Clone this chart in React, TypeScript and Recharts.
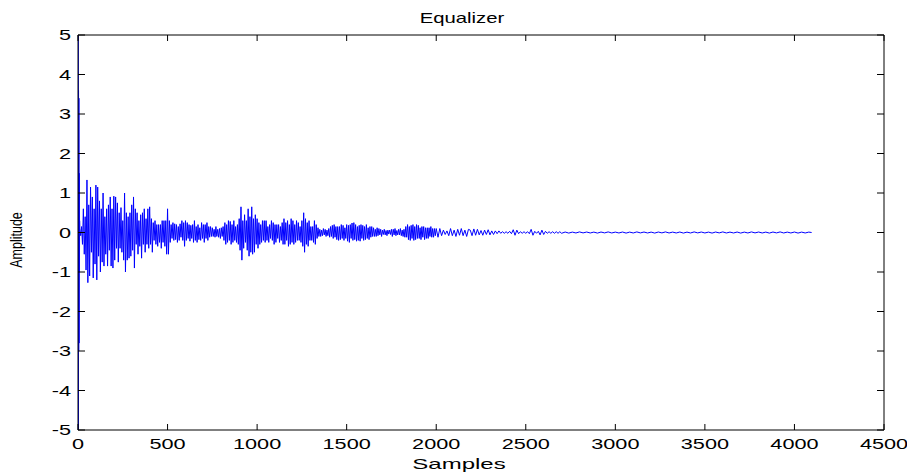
import { FC } from "react"
import { Line, LineChart, XAxis, YAxis } from "recharts"

// first few samples: the big impulse at the start
const onsetSamples: number[] = [0, 1, 2, 3, 4, 5, 6, 7, 8, 9]
const onsetValues: number[] = [0, 5.5, -5.5, 3.6, -3.0, 3.4, -2.8, 1.5, -1.0, 0.3]

// samples 10..500, every 5
const attack: number[] = [
	0.1, -0.08, 0.15, -0.3, 0.6, -0.55, 0.4, -0.95, 1.33, -1.27,
	0.7, -1.1, 1.15, -0.5, 0.9, -1.15, 0.6, -0.8, 1.2, -1.2,
	1.15, -0.6, 0.8, -1.0, 0.6, -0.75, 1.0, -0.85, 0.4, -0.55,
	0.6, -0.85, 0.7, -0.45, 0.9, -0.85, 0.6, -0.9, 0.92, -0.7,
	0.9, -0.4, 0.75, -0.75, 0.5, -0.4, 0.63, -0.5, 0.3, -0.7,
	1.0, -1.0, 0.5, -0.7, 0.4, -0.65, 0.5, -0.6, 0.7, -0.45,
	0.9, -0.9, 0.6, -0.3, 0.5, -0.55, 0.3, -0.35, 0.45, -0.65,
	0.5, -0.3, 0.6, -0.5, 0.35, -0.3, 0.6, -0.4, 0.65, -0.3,
	0.35, -0.5, 0.25, -0.2, 0.3, -0.3, 0.2, -0.35, 0.2, -0.25,
	0.2, -0.4, 0.3, -0.25, 0.3, -0.35, 0.3, -0.55, 0.6,
]

// samples 505..1500, every 5
const middle: number[] = [
	-0.55, 0.3, -0.25, 0.2, -0.15, 0.25, -0.2, 0.22, -0.18, 0.2,
	-0.25, 0.15, -0.2, 0.22, -0.12, 0.3, -0.2, 0.25, -0.35, 0.3,
	-0.2, 0.25, -0.15, 0.2, -0.22, 0.18, -0.15, 0.2, -0.25, 0.3,
	-0.2, 0.15, -0.25, 0.2, -0.18, 0.12, -0.2, 0.25, -0.15, 0.2,
	-0.25, 0.2, -0.15, 0.25, -0.2, 0.15, -0.12, 0.15, -0.1, 0.12,
	-0.1, 0.08, -0.12, 0.15, -0.1, 0.08, -0.12, 0.1, -0.15, 0.12,
	-0.1, 0.15, -0.2, 0.25, -0.3, 0.2, -0.25, 0.3, -0.2, 0.28,
	-0.3, 0.2, -0.25, 0.3, -0.2, 0.15, -0.25, 0.2, -0.3, 0.35,
	-0.45, 0.65, -0.7, 0.3, -0.4, 0.45, -0.25, 0.3, -0.45, 0.6,
	-0.6, 0.4, -0.5, 0.65, -0.55, 0.35, -0.5, 0.45, -0.3, 0.35,
	-0.4, 0.25, -0.3, 0.2, -0.25, 0.3, -0.2, 0.3, -0.25, 0.3,
	-0.2, 0.15, -0.25, 0.2, -0.15, 0.3, -0.2, 0.25, -0.3, 0.2,
	-0.25, 0.2, -0.15, 0.2, -0.25, 0.15, -0.2, 0.25, -0.3, 0.35,
	-0.3, 0.25, -0.2, 0.3, -0.35, 0.2, -0.3, 0.35, -0.25, 0.3,
	-0.3, 0.2, -0.25, 0.3, -0.2, 0.25, -0.2, 0.15, -0.25, 0.3,
	-0.35, 0.5, -0.5, 0.35, -0.3, 0.25, -0.35, 0.3, -0.2, 0.15,
	-0.2, 0.15, -0.25, 0.3, -0.3, 0.2, -0.15, 0.12, -0.1, 0.08,
	-0.1, 0.06, -0.08, 0.1, -0.06, 0.08, -0.1, 0.06, -0.08, 0.1,
	-0.12, 0.15, -0.1, 0.18, -0.15, 0.2, -0.12, 0.15, -0.18, 0.15,
	-0.2, 0.15, -0.18, 0.2, -0.15, 0.18, -0.2, 0.12, -0.15, 0.2,
]

// samples 1505..2000, every 5
const decay: number[] = [
	-0.22, 0.18, -0.25, 0.2, -0.15, 0.24, -0.2, 0.25, -0.18, 0.2,
	-0.22, 0.15, -0.2, 0.18, -0.22, 0.2, -0.15, 0.18, -0.2, 0.15,
	-0.18, 0.2, -0.15, 0.12, -0.18, 0.15, -0.12, 0.15, -0.1, 0.12,
	-0.1, 0.08, -0.1, 0.12, -0.08, 0.1, -0.06, 0.08, -0.1, 0.06,
	-0.05, 0.08, -0.06, 0.05, -0.08, 0.06, -0.04, 0.06, -0.05, 0.08,
	-0.1, 0.08, -0.06, 0.1, -0.08, 0.05, -0.06, 0.08, -0.06, 0.1,
	-0.08, 0.06, -0.1, 0.08, -0.12, 0.15, -0.12, 0.2, -0.18, 0.15,
	-0.2, 0.18, -0.15, 0.2, -0.2, 0.15, -0.18, 0.2, -0.15, 0.18,
	-0.15, 0.12, -0.18, 0.15, -0.12, 0.15, -0.18, 0.12, -0.15, 0.12,
	-0.15, 0.12, -0.1, 0.15, -0.12, 0.1, -0.12, 0.1, -0.08, 0.1,
]

// samples 2010..2700, every 10
const late: number[] = [
	-0.12, 0.1,
	-0.08, 0.06, -0.05, 0.04, -0.08, 0.1, -0.08, 0.06, -0.1, 0.08, -0.07, 0.1, -0.08, 0.06, -0.1, 0.08, 0.06,
	-0.08, 0.09, -0.07, 0.08, -0.06, 0.05, -0.07, 0.06, -0.05, 0.07, -0.06, 0.04, -0.05, 0.04, -0.03, 0.04,
	-0.02, 0.02, -0.02, 0.02, -0.02, 0.03, -0.03, 0.07, -0.07, 0.06, -0.03, 0.02, -0.02, 0.02, -0.02, 0.02,
	-0.03, 0.08, -0.07, 0.03, -0.02, 0.03, -0.06, 0.06, -0.05, 0.03, -0.02, 0.02, -0.02, 0.02, -0.02, 0.02,
	-0.02, 0.02, -0.02,
]

// samples 2720..4080, every 20, then the last sample
const tail: number[] = [
	0.012, -0.015, 0.01, -0.012, 0.015, -0.01, 0.012, -0.012, 0.01, -0.015,
	0.012, -0.01, 0.015, -0.012, 0.01, -0.012, 0.012, -0.015, 0.01, -0.012,
	0.015, -0.01, 0.012, -0.012, 0.01, -0.015, 0.012, -0.01, 0.015, -0.012,
	0.01, -0.012, 0.012, -0.015, 0.01, -0.012, 0.015, -0.01, 0.012, -0.012,
	0.01, -0.015, 0.012, -0.01, 0.015, -0.012, 0.01, -0.012, 0.012, -0.015,
	0.01, -0.012, 0.015, -0.01, 0.012, -0.012, 0.01, -0.015, 0.012, -0.01,
	0.015, -0.012, 0.01, -0.012, 0.012, -0.015, 0.01, -0.012, 0.01,
]
const lastSample = 4096

const xTicks: number[] = [0, 500, 1000, 1500, 2000, 2500, 3000, 3500, 4000, 4500]
const yTicks: number[] = [-5, -4, -3, -2, -1, 0, 1, 2, 3, 4, 5]

interface IPoint {
	n: number
	v: number
}

const buildData = (): IPoint[] => {
	const out: IPoint[] = []
	onsetSamples.forEach((n, i) => out.push({ n, v: onsetValues[i] }))
	attack.forEach((v, i) => out.push({ n: 10 + i * 5, v }))
	middle.forEach((v, i) => out.push({ n: 505 + i * 5, v }))
	decay.forEach((v, i) => out.push({ n: 1505 + i * 5, v }))
	late.forEach((v, i) => out.push({ n: 2010 + i * 10, v }))
	tail.forEach((v, i) => out.push({ n: 2720 + i * 20, v }))
	out.push({ n: lastSample, v: 0 })
	return out
}

const FONT = "'Liberation Sans', Arial, Helvetica, sans-serif"
const STRETCH = 1.55

const XTick: FC<any> = ({ x, y, payload }) => (
	<text
		transform={`translate(${x},${y}) scale(${STRETCH},1)`}
		textAnchor="middle"
		dy="0.72em"
		fontSize={14}
		fontFamily={FONT}
		fill="#000"
	>
		{payload.value}
	</text>
)

const YTick: FC<any> = ({ x, y, payload }) => (
	<text
		transform={`translate(${x},${y}) scale(${STRETCH},1)`}
		textAnchor="end"
		dy="0.36em"
		fontSize={14}
		fontFamily={FONT}
		fill="#000"
	>
		{payload.value}
	</text>
)

const NoTick: FC<any> = () => null

const App: FC = () => {
	const data = buildData()
	return (
		<div style={{ position: "absolute", left: 0, top: 0, width: 907, height: 475, background: "#fff" }}>
			<LineChart width={907} height={475} data={data} margin={{ top: 34, right: 22, bottom: 0, left: 0 }}>
				<XAxis
					dataKey="n"
					type="number"
					domain={[0, 4500]}
					ticks={xTicks}
					height={45}
					stroke="#000"
					tickSize={-6}
					tickMargin={15}
					tick={<XTick />}
					allowDataOverflow
				/>
				<XAxis
					xAxisId="top"
					dataKey="n"
					orientation="top"
					type="number"
					domain={[0, 4500]}
					ticks={xTicks}
					height={1}
					stroke="#000"
					tickSize={-6}
					tick={<NoTick />}
					allowDataOverflow
				/>
				<YAxis
					type="number"
					domain={[-5, 5]}
					ticks={yTicks}
					width={78}
					stroke="#000"
					tickSize={-7}
					tickMargin={14}
					tick={<YTick />}
					allowDataOverflow
				/>
				<YAxis
					yAxisId="right"
					orientation="right"
					type="number"
					domain={[-5, 5]}
					ticks={yTicks}
					width={1}
					stroke="#000"
					tickSize={-7}
					tick={<NoTick />}
					allowDataOverflow
				/>
				<Line
					xAxisId="top"
					yAxisId="right"
					dataKey="v"
					stroke="none"
					dot={false}
					legendType="none"
					isAnimationActive={false}
				/>
				<Line
					dataKey="v"
					stroke="#0000ff"
					strokeWidth={1}
					dot={false}
					type="linear"
					isAnimationActive={false}
				/>
			</LineChart>
			<svg width={907} height={475} style={{ position: "absolute", left: 0, top: 0, pointerEvents: "none" }}>
				<text
					transform={`translate(462,23) scale(1.45,1)`}
					textAnchor="middle"
					fontSize={14}
					fontFamily={FONT}
				>
					Equalizer
				</text>
				<text
					transform={`translate(459,469) scale(1.6,1)`}
					textAnchor="middle"
					fontSize={15}
					fontFamily={FONT}
				>
					Samples
				</text>
				<text
					transform={`translate(22,240) rotate(-90) scale(1,1.3)`}
					textAnchor="middle"
					fontSize={12.5}
					fontFamily={FONT}
				>
					Amplitude
				</text>
			</svg>
		</div>
	)
}

export default App
